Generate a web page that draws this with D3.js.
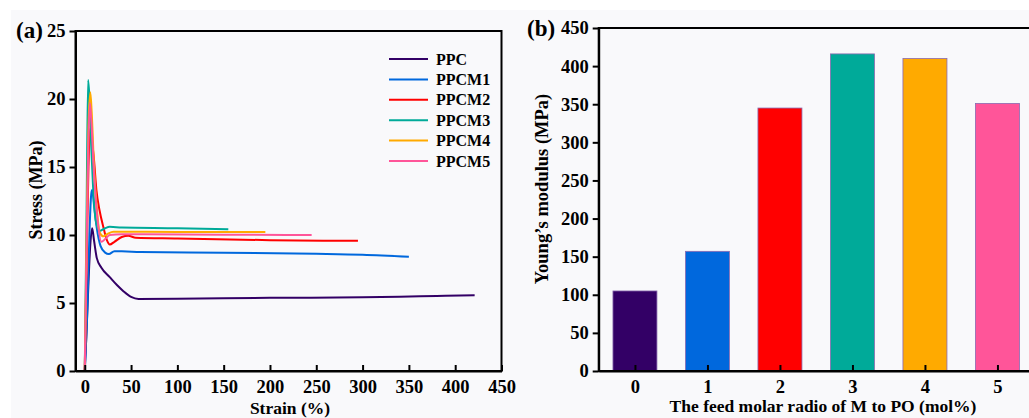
<!DOCTYPE html>
<html>
<head>
<meta charset="utf-8">
<script src="https://cdn.jsdelivr.net/npm/d3@7"></script>
<style>
  body { margin: 0; background: #fff; }
  text { font-family: "Liberation Serif", "Times New Roman", serif; font-weight: bold; fill: #000; }
</style>
</head>
<body>
<div class="canvas"></div>
<script>
// stress-strain curves, [strain %, stress MPa]
const seriesNames = ['PPC', 'PPCM1', 'PPCM2', 'PPCM3', 'PPCM4', 'PPCM5'];
const seriesColors = ['#330066', '#0068dd', '#ff0000', '#00aa99', '#ffaa00', '#ff5599'];

const ppc = [[0,0],[2,3],[4,6.5],[6,9.3],[8,10.5],[10,9.6],[13,8.3],[18,7.6],[27,6.9],[35,6.3],[42,5.85],[50,5.45],[58,5.3],[100,5.32],[200,5.38],[300,5.42],[340,5.46],[380,5.52],[421,5.57]];
const ppcm1 = [[0,0],[3,5],[5,10],[7,13],[8,13.3],[10,12.2],[13,10.5],[17,9.2],[22,8.7],[26,8.6],[32,8.8],[40,8.8],[60,8.75],[150,8.7],[250,8.62],[300,8.55],[350,8.4]];
const ppcm2 = [[0,0],[2,8],[4,15],[5.5,17.8],[7,17.3],[10,15.5],[12.6,13.3],[16,11.8],[20,10.6],[24,9.6],[27,9.3],[32,9.5],[40,9.85],[47,9.95],[55,9.8],[100,9.75],[200,9.62],[295,9.57]];
const ppcm3 = [[0,0],[2,12],[3.6,21.4],[5,20.2],[7,16.5],[9,13.5],[12,11],[16,10.3],[22,10.5],[27,10.6],[40,10.55],[100,10.5],[155,10.42]];
const ppcm4 = [[0,0],[2,10],[4,18],[6,20.5],[7.5,19],[10,15],[13,12],[16,10.2],[20,9.9],[25,10.1],[31,10.24],[100,10.22],[195,10.22]];
const ppcm5 = [[0,0],[2,9],[4,17],[5.5,19.7],[7,18.5],[10,14.5],[14,11],[18,9.5],[22,9.7],[27,10.0],[40,10.05],[150,10.02],[245,10.0]];
const curves = [ppc, ppcm1, ppcm2, ppcm3, ppcm4, ppcm5];

// Young's modulus bars
const ratios = [0, 1, 2, 3, 4, 5];
const modulus = [105, 157, 345, 416, 410, 351];

const strainTicks = [0, 50, 100, 150, 200, 250, 300, 350, 400, 450];
const stressTicks = [0, 5, 10, 15, 20, 25];
const modulusTicks = [0, 50, 100, 150, 200, 250, 300, 350, 400, 450];

const svg = d3.select('.canvas')
  .append('svg')
    .attr('width', 1029)
    .attr('height', 418);

// light grey backdrop of the figure
svg.append('rect')
  .attr('x', 11).attr('y', 10)
  .attr('width', 1029).attr('height', 418)
  .attr('fill', '#f9f9fb');

// ---------- (a) stress-strain ----------
const xa = d3.scaleLinear().domain([-10, 450]).range([75.5, 501.5]);
const ya = d3.scaleLinear().domain([0, 25]).range([371, 31]);

const gA = svg.append('g');

const line = d3.line()
  .x(d => xa(d[0]))
  .y(d => ya(d[1]))
  .curve(d3.curveMonotoneX);

gA.selectAll('path.curve')
  .data(curves)
  .enter()
  .append('path')
    .attr('class', 'curve')
    .attr('d', line)
    .attr('fill', 'none')
    .attr('stroke', (d, i) => seriesColors[i])
    .attr('stroke-width', 2);

const xAxisA = d3.axisBottom(xa).tickValues(strainTicks).tickSize(-6).tickSizeOuter(0).tickPadding(9);
const yAxisA = d3.axisLeft(ya).tickValues(stressTicks).tickSize(6).tickSizeOuter(0).tickPadding(4);

gA.append('g').attr('transform', 'translate(0,371)').call(xAxisA);
gA.append('g').attr('transform', 'translate(75.5,0)').call(yAxisA);

// frame
gA.append('rect')
  .attr('x', 75.5).attr('y', 31)
  .attr('width', 426).attr('height', 340)
  .attr('fill', 'none').attr('stroke', '#000').attr('stroke-width', 2);

// legend
const legend = gA.selectAll('g.leg')
  .data(seriesNames)
  .enter()
  .append('g')
    .attr('class', 'leg')
    .attr('transform', (d, i) => `translate(389, ${59 + i * 20.4})`);
legend.append('line')
  .attr('x1', 0).attr('x2', 39)
  .attr('stroke', (d, i) => seriesColors[i])
  .attr('stroke-width', 2);
legend.append('text')
  .attr('x', 47).attr('dy', '0.35em')
  .style('font-size', '16px')
  .text(d => d);

gA.append('text')
  .attr('x', 290).attr('y', 414)
  .attr('text-anchor', 'middle')
  .style('font-size', '17.5px')
  .text('Strain (%)');
gA.append('text')
  .attr('transform', 'translate(42,190) rotate(-90)')
  .attr('text-anchor', 'middle')
  .style('font-size', '18px')
  .text('Stress (MPa)');
gA.append('text')
  .attr('x', 16).attr('y', 38)
  .style('font-size', '23px')
  .text('(a)');

// ---------- (b) Young's modulus ----------
const xb = d3.scaleLinear().domain([-0.5, 5.5]).range([598.7, 1033.7]);
const yb = d3.scaleLinear().domain([0, 450]).range([371, 28]);
const barW = 44;

const gB = svg.append('g');

gB.selectAll('rect.bar')
  .data(modulus)
  .enter()
  .append('rect')
    .attr('class', 'bar')
    .attr('x', (d, i) => xb(ratios[i]) - barW / 2)
    .attr('y', d => yb(d))
    .attr('width', barW)
    .attr('height', d => yb(0) - yb(d))
    .attr('fill', (d, i) => seriesColors[i])
    .attr('stroke', '#8a6ab0')
    .attr('stroke-width', 0.8);

const xAxisB = d3.axisBottom(xb).tickValues(ratios).tickFormat(d3.format('d'))
  .tickSize(-6).tickSizeOuter(0).tickPadding(9);
const yAxisB = d3.axisLeft(yb).tickValues(modulusTicks).tickSize(6).tickSizeOuter(0).tickPadding(4);

gB.append('g').attr('transform', 'translate(0,371)').call(xAxisB);
gB.append('g').attr('transform', 'translate(598.7,0)').call(yAxisB);

gB.append('rect')
  .attr('x', 598.7).attr('y', 28)
  .attr('width', 435).attr('height', 343)
  .attr('fill', 'none').attr('stroke', '#000').attr('stroke-width', 2);

gB.append('text')
  .attr('x', 823).attr('y', 412)
  .attr('text-anchor', 'middle')
  .style('font-size', '17.5px')
  .text('The feed molar radio of M to PO (mol%)');
gB.append('text')
  .attr('transform', 'translate(548,189) rotate(-90)')
  .attr('text-anchor', 'middle')
  .style('font-size', '18.5px')
  .text('Young\u2019s modulus (MPa)');
gB.append('text')
  .attr('x', 527).attr('y', 36)
  .style('font-size', '23px')
  .text('(b)');

// axis styling
svg.selectAll('.domain').attr('stroke', '#000').attr('stroke-width', 2);
svg.selectAll('.tick line').attr('stroke', '#000').attr('stroke-width', 2);
svg.selectAll('.tick text')
  .style('font-family', '"Liberation Serif", "Times New Roman", serif')
  .style('font-weight', 'bold')
  .style('font-size', '18.5px')
  .attr('fill', '#000');
</script>
</body>
</html>
